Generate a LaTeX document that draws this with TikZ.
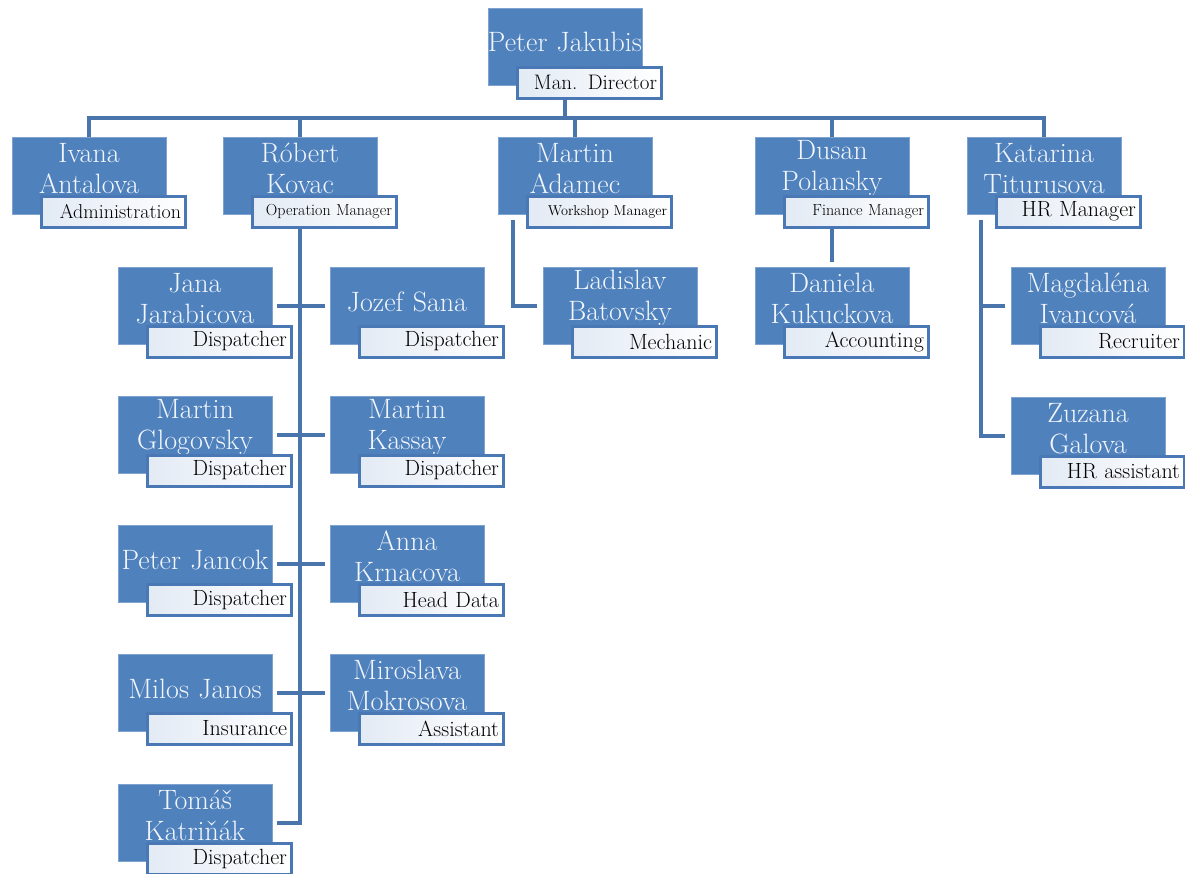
\documentclass[tikz,border=0pt]{standalone}
\usepackage{fontspec}
\usetikzlibrary{backgrounds,calc}
\definecolor{boxblue}{HTML}{4F81BD}
\definecolor{boxedge}{HTML}{7FA3D1}
\definecolor{lineblue}{HTML}{4A74AC}
\definecolor{lblborder}{HTML}{4A78B4}
\definecolor{lblshade}{HTML}{E2EAF4}
\definecolor{nametxt}{HTML}{F2F6FB}
\tikzset{
  bluebox/.style={rectangle, fill=boxblue, draw=boxedge, line width=0.8pt,
    minimum width=154pt, minimum height=77pt, inner sep=0pt},
  nametext/.style={text=nametxt, font=\fontsize{28}{31}\selectfont,
    align=center, text width=180pt, inner sep=0pt},
  rolebox/.style={rectangle, draw=lblborder, line width=3pt,
    left color=lblshade, middle color=white, right color=white,
    minimum width=144pt, minimum height=31pt, text width=136pt,
    align=right, inner sep=0pt, text=black},
  conn/.style={draw=lineblue, line width=4pt},
}
\newcommand\orgbase[7]{%
  \node[bluebox] (#2) at ({#3+77},{#4+38.5}) {};
  \node[nametext] (#2n) at ([yshift=#7]#2.center) {#5};
  \node[rolebox, font=\fontsize{#1}{#1}\selectfont] (#2l) at ({#3+101},{#4+74.5}) {#6};
}
\newcommand\orgp[6][22]{\orgbase{#1}{#2}{#3}{#4}{#5}{#6}{7pt}}
\newcommand\orgq[6][22]{\orgbase{#1}{#2}{#3}{#4}{#5}{#6}{4pt}}
\begin{document}
\begin{tikzpicture}[x=1pt,y=-1pt]
\useasboundingbox (0,0) rectangle (1185,873);
\orgq[21]{pj}{488}{8}{Peter Jakubis}{Man. Director}
\orgp[20]{iv}{12}{137}{Ivana\\Antalova}{Administration}
\orgp[16]{rk}{223}{137}{Róbert\\Kovac}{Operation Manager}
\orgp[14.3]{ma}{498}{137}{Martin\\Adamec}{Workshop Manager}
\orgp[16]{dp}{755}{137}{Dusan\\Polansky}{Finance Manager}
\orgp[22]{kt}{967}{137}{Katarina\\Titurusova}{HR Manager}
\orgp{jj}{118}{267}{Jana\\Jarabicova}{Dispatcher}
\orgq{js}{330}{267}{Jozef Sana}{Dispatcher}
\orgp{mg}{118}{396}{Martin\\Glogovsky}{Dispatcher}
\orgp{mk}{330}{396}{Martin\\Kassay}{Dispatcher}
\orgq{pc}{118}{525}{Peter Jancok}{Dispatcher}
\orgp{ak}{330}{525}{Anna\\Krnacova}{Head Data}
\orgq{mj}{118}{654}{Milos Janos}{Insurance}
\orgp{mm}{330}{654}{Miroslava\\Mokrosova}{Assistant}
\orgp{tk}{118}{784}{Tomáš\\Katriňák}{Dispatcher}
\orgp{lb}{543}{267}{Ladislav\\Batovsky}{Mechanic}
\orgp{dk}{755}{267}{Daniela\\Kukuckova}{Accounting}
\orgp{mi}{1011}{267}{Magdaléna\\Ivancová}{Recruiter}
\orgp{zg}{1011}{397}{Zuzana\\Galova}{HR assistant}
\begin{pgfonlayer}{background}
  \fill[white] (0,0) rectangle (1185,873);
  \coordinate (bus) at (0,118);
  \draw[conn] (pj.center) -- (pj.center |- bus);
  \draw[conn] (iv.center) -- (iv.center |- bus) -- (kt.center |- bus) -- (kt.center);
  \draw[conn] (rk.center |- bus) -- (rk.center);
  \draw[conn] (ma.center |- bus) -- (ma.center);
  \draw[conn] (dp.center |- bus) -- (dp.center);
  \draw[conn] (rk.center) |- ([xshift=5pt]tk.east);
  \draw[conn] ([xshift=5pt]jj.east) -- ([xshift=-5pt]js.west);
  \draw[conn] ([xshift=5pt]mg.east) -- ([xshift=-5pt]mk.west);
  \draw[conn] ([xshift=5pt]pc.east) -- ([xshift=-5pt]ak.west);
  \draw[conn] ([xshift=5pt]mj.east) -- ([xshift=-5pt]mm.west);
  \draw[conn] ([xshift=15pt,yshift=-6pt]ma.south west) |- ([xshift=-6pt]lb.west);
  \draw[conn] (dp.center) -- ([yshift=5pt]dk.north);
  \coordinate (ktx) at ([xshift=14pt,yshift=-6pt]kt.south west);
  \draw[conn] (ktx) |- ([xshift=-6pt]zg.west);
  \draw[conn] (ktx |- mi.west) -- ([xshift=-6pt]mi.west);
\end{pgfonlayer}
\end{tikzpicture}
\end{document}
